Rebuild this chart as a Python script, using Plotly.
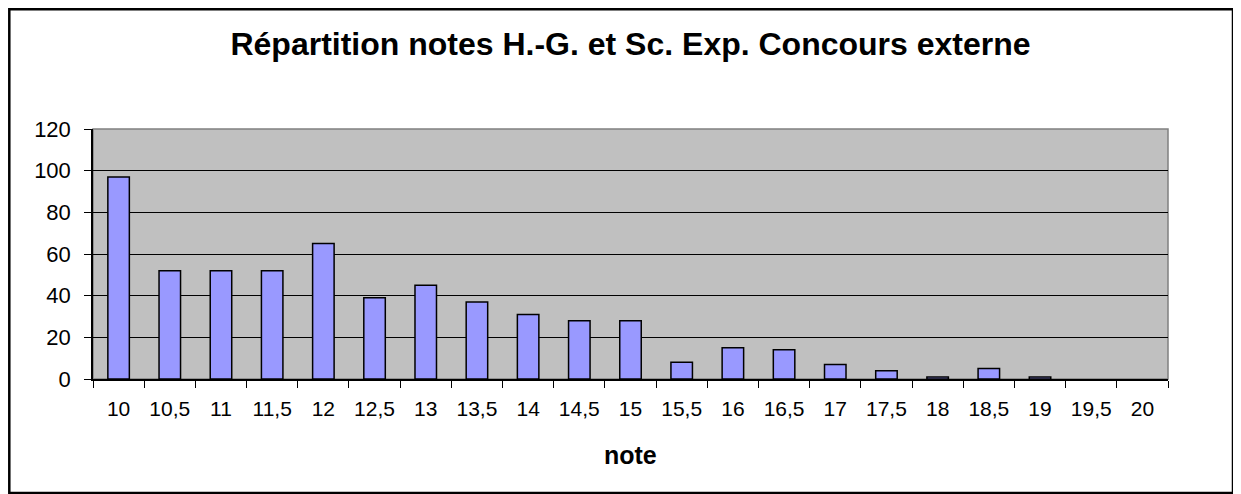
import plotly.graph_objects as go

notes = ["10", "10,5", "11", "11,5", "12", "12,5", "13", "13,5", "14", "14,5", "15",
         "15,5", "16", "16,5", "17", "17,5", "18", "18,5", "19", "19,5", "20"]
effectifs = [97, 52, 52, 52, 65, 39, 45, 37, 31, 28, 28,
             8, 15, 14, 7, 4, 1, 5, 1, 0, 0]
y_ticks = [0, 20, 40, 60, 80, 100, 120]

W, H = 1241, 494
OFF = 8  # page body margin: figure is drawn 8px right/down in the window
# plot area in window pixels
L, R, T, B = 93 - OFF, 1168 - OFF, 129 - OFF, 379 - OFF

def px(x):
    return (x - OFF - L) / (R - L)

def py(y):
    return (B - (y - OFF)) / (B - T)

font = "Liberation Sans, Arial, sans-serif"

fig = go.Figure(go.Bar(
    x=notes, y=effectifs,
    marker=dict(color="#9999FF",
                line=dict(color="black", width=[1.5 if v > 0 else 0 for v in effectifs])),
))

fig.update_layout(
    width=W, height=H,
    margin=dict(l=L, r=W - R, t=T, b=H - B, pad=0),
    paper_bgcolor="white",
    plot_bgcolor="#C0C0C0",
    bargap=0.58,
    showlegend=False,
    font=dict(family=font, color="black", size=21),
    title=dict(text="<b>Répartition notes H.-G. et Sc. Exp. Concours externe</b>",
               x=(L + R) / 2 / W, xanchor="center",
               y=1 - (44 - OFF) / H, yanchor="middle", yref="container",
               font=dict(family=font, size=32, color="black")),
    xaxis=dict(type="category", tickson="boundaries", ticks="outside", ticklen=7,
               tickcolor="black", tickwidth=1, showline=True, linecolor="black",
               linewidth=1.5, showgrid=False, tickfont=dict(size=21),
               ticklabelstandoff=10),
    yaxis=dict(range=[0, 120], tickvals=y_ticks, ticks="outside", ticklen=7,
               tickcolor="black", tickwidth=1, showline=True, linecolor="black",
               linewidth=1.5, showgrid=True, gridcolor="black", gridwidth=1,
               zeroline=False, tickfont=dict(size=22), ticklabelstandoff=9),
    annotations=[dict(text="<b>note</b>", xref="paper", yref="paper",
                      x=0.5, y=py(455), xanchor="center", yanchor="middle",
                      showarrow=False, font=dict(family=font, size=25, color="black"))],
    shapes=[
        dict(type="rect", xref="paper", yref="paper", x0=0, x1=1, y0=0, y1=1,
             line=dict(color="#808080", width=1.5), layer="below"),
        dict(type="rect", xref="paper", yref="paper",
             x0=px(9.3), x1=px(1233), y0=py(493), y1=py(9.3),
             line=dict(color="black", width=2.5)),
    ],
)

fig.write_html("out.html")
